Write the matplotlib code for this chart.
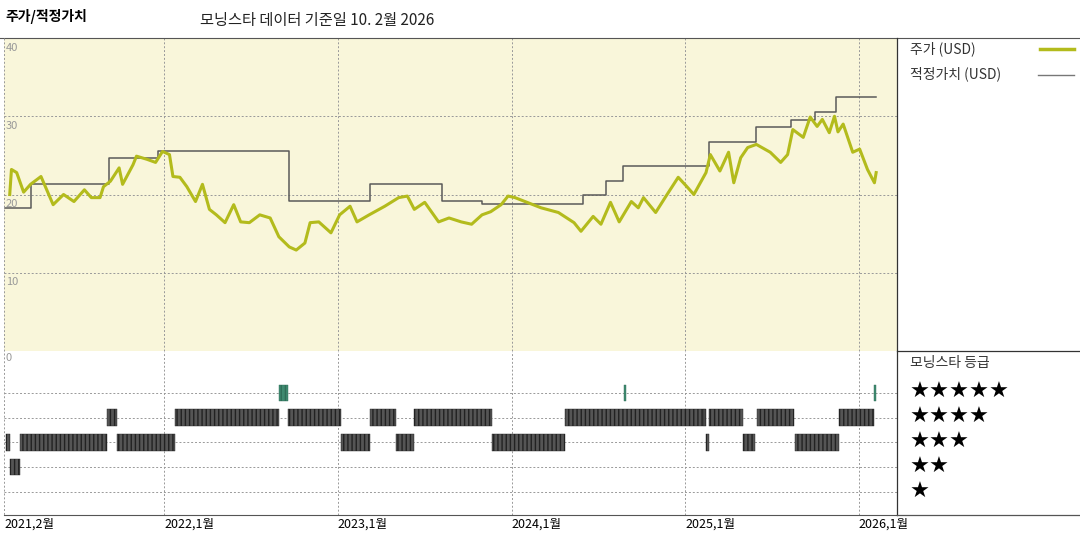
import matplotlib.pyplot as plt
from matplotlib.lines import Line2D

plt.rcParams['font.family'] = ['Noto Sans CJK KR', 'DejaVu Sans']

# price (decimal year, USD)
price_t = [2021.11, 2021.12, 2021.15, 2021.19, 2021.23, 2021.29, 2021.36, 2021.42, 2021.48, 2021.54,
           2021.58, 2021.63, 2021.65, 2021.69, 2021.74, 2021.76, 2021.82, 2021.84, 2021.90, 2021.95,
           2021.99, 2022.03, 2022.05, 2022.09, 2022.13, 2022.18, 2022.22, 2022.26, 2022.30, 2022.35,
           2022.40, 2022.44, 2022.49, 2022.55, 2022.61, 2022.66, 2022.72, 2022.76, 2022.81, 2022.84,
           2022.89, 2022.96, 2023.01, 2023.07, 2023.11, 2023.18, 2023.27, 2023.35, 2023.40, 2023.44,
           2023.50, 2023.58, 2023.64, 2023.71, 2023.77, 2023.83, 2023.88, 2023.94, 2023.98, 2024.02,
           2024.17, 2024.27, 2024.36, 2024.40, 2024.47, 2024.515, 2024.57, 2024.62, 2024.69, 2024.73,
           2024.76, 2024.83, 2024.89, 2024.96, 2025.01, 2025.05, 2025.12, 2025.145, 2025.20, 2025.25,
           2025.28, 2025.32, 2025.36, 2025.41, 2025.49, 2025.55, 2025.59, 2025.62, 2025.68, 2025.72,
           2025.76, 2025.79, 2025.83, 2025.86, 2025.88, 2025.91, 2025.965, 2026.005, 2026.05, 2026.09,
           2026.10]
price_v = [20.0, 23.2, 22.8, 20.3, 21.3, 22.3, 18.7, 20.0, 19.1, 20.6,
           19.6, 19.6, 21.0, 21.7, 23.4, 21.3, 23.8, 24.9, 24.5, 24.1,
           25.5, 25.1, 22.3, 22.2, 21.0, 19.1, 21.3, 18.1, 17.4, 16.4,
           18.7, 16.5, 16.4, 17.4, 17.0, 14.6, 13.3, 12.9, 13.8, 16.4,
           16.5, 15.1, 17.4, 18.5, 16.5, 17.4, 18.5, 19.6, 19.8, 18.1,
           19.0, 16.5, 17.0, 16.5, 16.2, 17.4, 17.8, 18.7, 19.8, 19.6,
           18.3, 17.7, 16.4, 15.3, 17.2, 16.2, 19.0, 16.5, 19.1, 18.3,
           19.6, 17.7, 19.8, 22.2, 21.0, 20.0, 22.8, 25.1, 23.0, 25.4,
           21.5, 24.7, 26.0, 26.4, 25.4, 24.1, 25.1, 28.3, 27.3, 29.9,
           28.7, 29.6, 27.9, 30.0, 28.0, 29.0, 25.4, 25.8, 23.2, 21.5,
           22.8]

# fair value steps
fair_t = [2021.08, 2021.23, 2021.68, 2021.965, 2022.72, 2023.185, 2023.60, 2023.83, 2024.41,
          2024.545, 2024.64, 2025.14, 2025.41, 2025.61, 2025.75, 2025.87, 2026.10]
fair_v = [18.3, 21.4, 24.7, 25.6, 19.2, 21.3, 19.2, 18.8, 20.0,
          21.7, 23.6, 26.7, 28.6, 29.5, 30.5, 32.4, 32.4]

# star rating periods (start, end, stars)
rating_start = [2021.09, 2021.11, 2021.17, 2021.67, 2021.725, 2022.06, 2022.66, 2022.715, 2023.02,
                2023.185, 2023.335, 2023.44, 2023.89, 2024.31, 2024.645, 2025.11, 2025.12, 2025.14,
                2025.335, 2025.415, 2025.63, 2025.885, 2026.09]
rating_end = [2021.11, 2021.17, 2021.67, 2021.725, 2022.06, 2022.66, 2022.715, 2023.02, 2023.185,
              2023.335, 2023.44, 2023.89, 2024.31, 2025.11, 2024.66, 2025.12, 2025.135, 2025.335,
              2025.40, 2025.625, 2025.885, 2026.09, 2026.10]
rating_stars = [3, 2, 3, 4, 3, 4, 5, 4, 3,
                4, 3, 4, 3, 4, 5, 4, 3, 4,
                3, 4, 3, 4, 5]

year_ticks = [2022, 2023, 2024, 2025, 2026]
xtick_labels = ['2021,2월', '2022,1월', '2023,1월', '2024,1월', '2025,1월', '2026,1월']

X0, X1 = 2021.077, 2026.22
GREEN = '#b3bb1c'
GRID = dict(color='#999999', linestyle=(0, (2, 2)), linewidth=0.7)

fig = plt.figure(figsize=(10.8, 5.4), dpi=100)
W, H = 1080, 540


def rect(l, t, r, b):
    return [l / W, 1 - b / H, (r - l) / W, (b - t) / H]


ax = fig.add_axes(rect(4, 38, 897, 351))
ax.set_facecolor('#f9f6da')
ax.plot(price_t, price_v, color=GREEN, lw=2.2, zorder=3)
ax.step(fair_t, fair_v, where='post', color='#5a5a5a', lw=1.1, zorder=2)
ax.set_xlim(X0, X1)
ax.set_ylim(0, 40)
for v in (10, 20, 30):
    ax.axhline(v, **GRID, zorder=1)
for t in year_ticks:
    ax.axvline(t, **GRID, zorder=1)
for v in (40, 30, 20, 10):
    ax.text(X0 + 0.01, v - 0.6, str(v), va='top', ha='left', color='#999999', fontsize=8)
ax.set_xticks([])
ax.set_yticks([])
for s in ax.spines.values():
    s.set_visible(False)

ax2 = fig.add_axes(rect(4, 351, 897, 515))
ax2.set_xlim(X0, X1)
ax2.set_ylim(0.08, 6.68)
for lev in (1, 2, 3, 4, 5):
    ax2.axhline(lev, **GRID, zorder=1)
for t in year_ticks:
    ax2.axvline(t, **GRID, zorder=1)
for a, b, s in zip(rating_start, rating_end, rating_stars):
    fc = '#3f8a70' if s == 5 else '#555555'
    ec = '#2f6e58' if s == 5 else '#222222'
    ax2.broken_barh([(a, b - a)], (s - 0.33, 0.66), facecolor=fc, edgecolor=ec,
                    hatch='||||', linewidth=0.3, zorder=3)
ax2.text(X0 + 0.01, 6.6, '0', va='top', ha='left', color='#999999', fontsize=8)
ax2.set_yticks([])
ax2.set_xticks([X0 + 0.003] + year_ticks)
ax2.set_xticklabels(xtick_labels, fontsize=9)
for lbl in ax2.get_xticklabels():
    lbl.set_ha('left')
ax2.tick_params(axis='x', length=0, pad=2)
for k in ('top', 'right', 'left'):
    ax2.spines[k].set_visible(False)
ax2.spines['bottom'].set_color('#555555')

# frame lines
fig.add_artist(Line2D([0, 1], [1 - 38 / H] * 2, color='#555555', lw=0.8))
fig.add_artist(Line2D([897 / W] * 2, [1 - 38 / H, 1 - 515 / H], color='#333333', lw=0.9))
fig.add_artist(Line2D([897 / W, 1], [1 - 351 / H] * 2, color='#333333', lw=0.9))
fig.add_artist(Line2D([897 / W, 1], [1 - 515 / H] * 2, color='#555555', lw=0.9))
fig.add_artist(Line2D([4 / W] * 2, [1 - 38 / H, 1 - 515 / H], color='#999999', lw=0.7, ls=(0, (2, 2))))

fig.text(5 / W, 1 - 16 / H, '주가/적정가치', fontsize=10, fontweight='bold', va='center')
fig.text(200 / W, 1 - 20 / H, '모닝스타 데이터 기준일 10. 2월 2026', fontsize=11, va='center', color='#222222')

fig.text(910 / W, 1 - 49 / H, '주가 (USD)', fontsize=10, va='center', color='#333333')
fig.add_artist(Line2D([1040 / W, 1074 / W], [1 - 49 / H] * 2, color=GREEN, lw=2.5))
fig.text(910 / W, 1 - 74 / H, '적정가치 (USD)', fontsize=10, va='center', color='#333333')
fig.add_artist(Line2D([1038 / W, 1074 / W], [1 - 75 / H] * 2, color='#777777', lw=1))

fig.text(910 / W, 1 - 363 / H, '모닝스타 등급', fontsize=10, va='center', color='#333333')
for i, n in enumerate((5, 4, 3, 2, 1)):
    fig.text(910 / W, 1 - (392 + 25 * i) / H, '★' * n, fontsize=16, va='center',
             family=['DejaVu Sans'])

fig.savefig('out.png', dpi=100)
